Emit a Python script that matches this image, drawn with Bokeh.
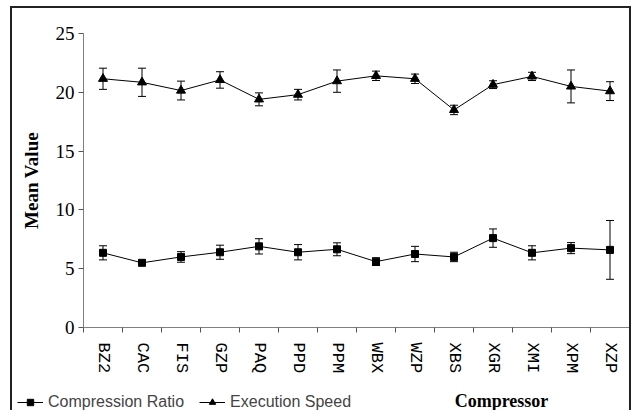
import numpy as np
from bokeh.plotting import figure
from bokeh.models import (ColumnDataSource, Whisker, TeeHead, FixedTicker, Legend,
                          LegendItem, Label, Range1d)
from bokeh.embed import file_html
from bokeh.resources import INLINE

categories = ["BZ2", "CAC", "FIS", "GZP", "PAQ", "PPD", "PPM", "WBX", "WZP",
              "XBS", "XGR", "XMI", "XPM", "XZP"]
ratio_mean = [6.35, 5.5, 6.0, 6.4, 6.9, 6.4, 6.65, 5.6, 6.25, 6.0, 7.6, 6.35, 6.75, 6.6]
ratio_err = [0.6, 0.15, 0.45, 0.6, 0.65, 0.65, 0.55, 0.33, 0.65, 0.4, 0.78, 0.6, 0.47, 2.5]
speed_mean = [21.15, 20.85, 20.15, 21.05, 19.4, 19.8, 20.95, 21.4, 21.15, 18.5,
              20.65, 21.35, 20.5, 20.1]
speed_err = [0.9, 1.2, 0.8, 0.7, 0.55, 0.45, 0.95, 0.4, 0.4, 0.4, 0.33, 0.35, 1.4, 0.8]
y_ticks = [0, 5, 10, 15, 20, 25]

n = len(categories)
xc = [i + 0.5 for i in range(n)]

# layout (page pixels)
W, H = 621, 404
CL, CT = 12, 8                 # canvas left/top on page
FX0, FX1 = 83, 629             # axis x extent
FY0, FY1 = 327, 33             # y=0 and y=25 pixel rows
px_x = (FX1 - FX0) / n
px_y = (FY0 - FY1) / 25.0
x_range = Range1d((CL - FX0) / px_x, (CL + W - FX0) / px_x)
y_range = Range1d((FY0 - (CT + H)) / px_y, (FY0 - CT) / px_y)

r_src = ColumnDataSource(dict(x=xc, y=ratio_mean,
                              lo=[m - e for m, e in zip(ratio_mean, ratio_err)],
                              hi=[m + e for m, e in zip(ratio_mean, ratio_err)]))
s_src = ColumnDataSource(dict(x=xc, y=speed_mean,
                              lo=[m - e for m, e in zip(speed_mean, speed_err)],
                              hi=[m + e for m, e in zip(speed_mean, speed_err)]))

p = figure(width=W, height=H, output_backend="svg", toolbar_location=None,
           x_range=x_range, y_range=y_range,
           min_border_left=0, min_border_right=0, min_border_top=0, min_border_bottom=0)
p.styles = {"margin-left": "10px", "margin-top": "6px",
            "border-top": "2px solid #222", "border-left": "2px solid #222",
            "border-right": "2px solid #222"}
p.outline_line_color = None
p.grid.visible = False
p.background_fill_color = "white"

# axes fixed at the data origin
p.xaxis.fixed_location = 0
p.yaxis.fixed_location = 0
p.xaxis.bounds = (0, n)
p.yaxis.bounds = (0, 25)

p.xaxis.ticker = FixedTicker(ticks=xc, minor_ticks=list(range(n + 1)))
p.xaxis.major_label_overrides = {x: c for x, c in zip(xc, categories)}
p.xaxis.major_tick_line_color = None
p.xaxis.major_tick_out = 0
p.xaxis.major_tick_in = 0
p.xaxis.minor_tick_out = 5
p.xaxis.minor_tick_in = 0
p.xaxis.minor_tick_line_color = "#555555"
p.xaxis.axis_line_color = "#808080"
p.xaxis.major_label_orientation = -np.pi / 2
p.xaxis.major_label_text_font = "Liberation Mono"
p.xaxis.major_label_text_font_size = "17px"
p.xaxis.major_label_text_color = "black"
p.xaxis.major_label_standoff = 10

p.yaxis.ticker = FixedTicker(ticks=y_ticks)
p.yaxis.major_tick_out = 5
p.yaxis.major_tick_in = 0
p.yaxis.minor_tick_line_color = None
p.yaxis.axis_line_color = "#808080"
p.yaxis.major_tick_line_color = "#555555"
p.yaxis.major_label_text_font = "Liberation Serif"
p.yaxis.major_label_text_font_size = "19px"
p.yaxis.major_label_text_color = "black"
p.yaxis.major_label_standoff = 4
p.yaxis.axis_label = "Mean Value"
p.yaxis.axis_label_text_font = "Liberation Serif"
p.yaxis.axis_label_text_font_style = "bold"
p.yaxis.axis_label_text_font_size = "19px"
p.yaxis.axis_label_text_color = "black"
p.yaxis.axis_label_standoff = 11

# error bars
for src in (r_src, s_src):
    w = Whisker(source=src, base="x", upper="hi", lower="lo",
                line_color="black", line_width=1,
                upper_head=TeeHead(size=8, line_color="black", line_width=1),
                lower_head=TeeHead(size=8, line_color="black", line_width=1))
    p.add_layout(w)

r_line = p.line("x", "y", source=r_src, line_color="black", line_width=1)
r_mark = p.scatter("x", "y", source=r_src, marker="square", size=7,
                   fill_color="black", line_color="black")
s_line = p.line("x", "y", source=s_src, line_color="black", line_width=1)
s_mark = p.scatter("x", "y", source=s_src, marker="triangle", size=9,
                   fill_color="black", line_color="black")

legend = Legend(items=[LegendItem(label="Compression Ratio", renderers=[r_line, r_mark]),
                       LegendItem(label="Execution Speed", renderers=[s_line, s_mark])],
                orientation="horizontal", location=(17 - CL, (CT + H) - 411),
                padding=0, margin=0, spacing=15, glyph_width=26, glyph_height=16,
                label_standoff=5, label_text_font="Liberation Sans",
                label_text_font_size="16px", label_height=16,
                border_line_color=None, background_fill_alpha=0)
p.add_layout(legend, "center")

p.add_layout(Label(x=501 - CL, y=(CT + H) - 400, x_units="screen", y_units="screen",
                   text="Compressor", text_font="Liberation Serif",
                   text_font_style="bold", text_font_size="18px",
                   text_color="black", text_align="center", text_baseline="middle"))

open("out.html", "w").write(file_html(p, INLINE))
